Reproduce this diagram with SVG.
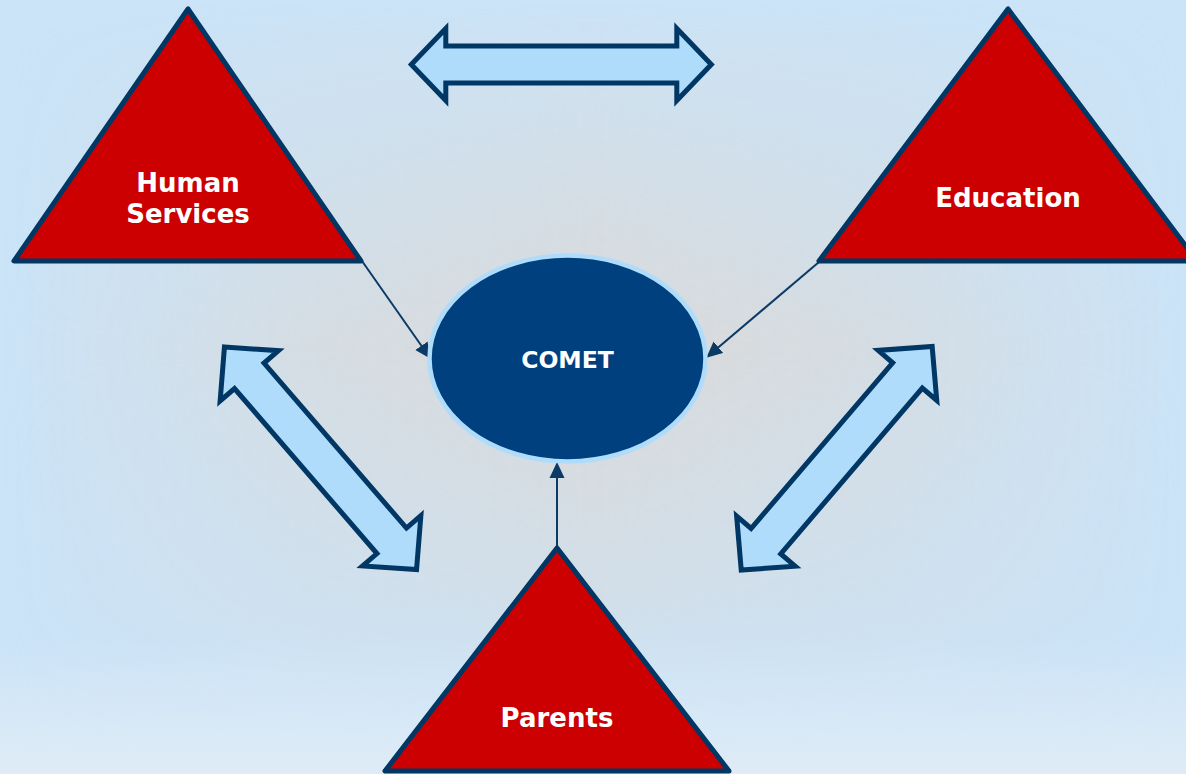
<svg xmlns="http://www.w3.org/2000/svg" width="1186" height="774" viewBox="0 0 1186 774">
  <defs>
    <linearGradient id="gh" x1="0" y1="0" x2="1" y2="0">
      <stop offset="0" stop-color="#fff" stop-opacity="0"/>
      <stop offset="0.07" stop-color="#fff" stop-opacity="0.2"/>
      <stop offset="0.25" stop-color="#fff" stop-opacity="0.65"/>
      <stop offset="0.5" stop-color="#fff" stop-opacity="1"/>
      <stop offset="0.75" stop-color="#fff" stop-opacity="0.65"/>
      <stop offset="0.93" stop-color="#fff" stop-opacity="0.2"/>
      <stop offset="1" stop-color="#fff" stop-opacity="0"/>
    </linearGradient>
    <linearGradient id="gv" x1="0" y1="0" x2="0" y2="1">
      <stop offset="0" stop-color="#fff" stop-opacity="0"/>
      <stop offset="0.08" stop-color="#fff" stop-opacity="0.25"/>
      <stop offset="0.45" stop-color="#fff" stop-opacity="1"/>
      <stop offset="0.78" stop-color="#fff" stop-opacity="0.45"/>
      <stop offset="0.88" stop-color="#fff" stop-opacity="0.1"/>
      <stop offset="1" stop-color="#fff" stop-opacity="0"/>
    </linearGradient>
    <mask id="mh" maskUnits="userSpaceOnUse" x="0" y="0" width="1186" height="774">
      <rect x="0" y="0" width="1186" height="774" fill="url(#gh)"/>
    </mask>
    <mask id="mv" maskUnits="userSpaceOnUse" x="0" y="0" width="1186" height="774">
      <rect x="0" y="0" width="1186" height="774" fill="url(#gv)"/>
    </mask>
    <linearGradient id="bgBottom" x1="0" y1="0" x2="0" y2="1">
      <stop offset="0" stop-color="#e0ecf6" stop-opacity="0"/>
      <stop offset="1" stop-color="#e0ecf6" stop-opacity="0.95"/>
    </linearGradient>
    <marker id="arrowHead" markerUnits="userSpaceOnUse" markerWidth="16" markerHeight="16" viewBox="0 0 16 16" refX="15" refY="8" orient="auto">
      <path d="M0 0.5 L16 8 L0 15.5 Z" fill="#0b3a66"/>
    </marker>
    <path id="blockArrow" d="M -150 0 L -115.5 -36 L -115.5 -18.5 L 115.5 -18.5 L 115.5 -36 L 150 0 L 115.5 36 L 115.5 18.5 L -115.5 18.5 L -115.5 36 Z"/>
    <path id="blockArrowDiag" d="M -147 0 L -109 -38.5 L -109 -19.5 L 109 -19.5 L 109 -38.5 L 147 0 L 109 38.5 L 109 19.5 L -109 19.5 L -109 38.5 Z"/>
  </defs>
  <style>
    .tri { fill: #cc0000; stroke: #003764; stroke-width: 5; stroke-linejoin: round; }
    .label { font-family: "DejaVu Sans", Verdana, "Liberation Sans", sans-serif; font-weight: bold; fill: #ffffff; text-anchor: middle; }
    .block { fill: #b0dcfc; stroke: #003764; stroke-width: 5; stroke-linejoin: miter; }
    .conn { stroke: #0b3a66; stroke-width: 2; fill: none; marker-end: url(#arrowHead); }
  </style>

  <g id="background">
    <rect x="0" y="0" width="1186" height="774" fill="#cbe4f8"/>
    <g mask="url(#mv)">
      <rect x="0" y="0" width="1186" height="774" fill="#dad9d8" mask="url(#mh)"/>
    </g>
    <rect x="0" y="640" width="1186" height="134" fill="url(#bgBottom)"/>
  </g>

  <g id="block-arrows">
    <use href="#blockArrow" class="block" transform="translate(561.3 64.5)"/>
    <use href="#blockArrowDiag" class="block" transform="translate(320.5 458.3) rotate(49.2)"/>
    <use href="#blockArrowDiag" class="block" transform="translate(836.7 458.3) rotate(-49.5)"/>
  </g>

  <g id="connectors">
    <line class="conn" x1="362" y1="261" x2="430" y2="358"/>
    <line class="conn" x1="819" y1="262" x2="707" y2="357"/>
    <line class="conn" x1="557" y1="547" x2="557" y2="463"/>
  </g>

  <g id="node-human-services">
    <polygon class="tri" points="188,9 14,261 361,261"/>
    <text class="label" x="188" y="192" font-size="26">Human</text>
    <text class="label" x="188" y="222.5" font-size="26">Services</text>
  </g>

  <g id="node-education">
    <polygon class="tri" points="1008,9 819,261 1197,261"/>
    <text class="label" x="1008" y="207" font-size="26">Education</text>
  </g>

  <g id="node-parents">
    <polygon class="tri" points="557,548 385,771 729,771"/>
    <text class="label" x="557" y="727" font-size="26">Parents</text>
  </g>

  <g id="node-comet">
    <ellipse cx="567.5" cy="358.5" rx="138" ry="103" fill="#00407f" stroke="#b0dcfb" stroke-width="4.5"/>
    <text class="label" x="567.5" y="368" font-size="23.5">COMET</text>
  </g>
</svg>
